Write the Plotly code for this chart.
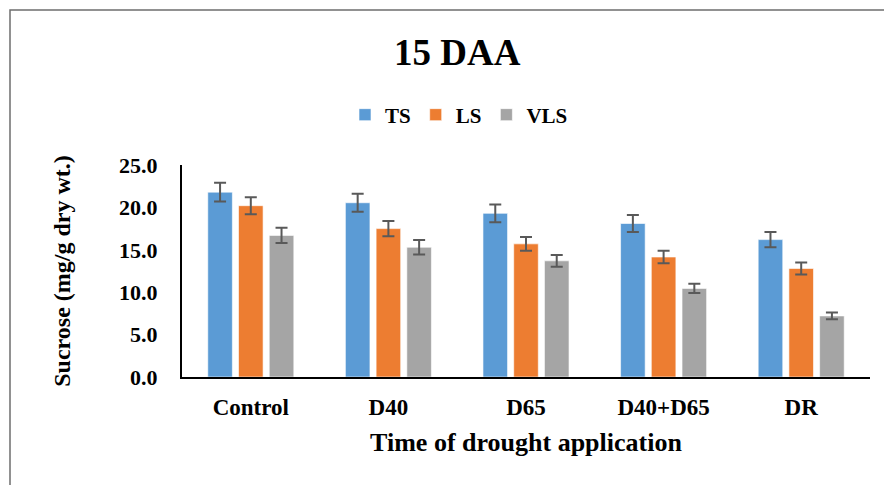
import plotly.graph_objects as go

categories = ["Control", "D40", "D65", "D40+D65", "DR"]
ts = [21.8, 20.55, 19.3, 18.1, 16.2]
ts_err = [1.1, 1.05, 1.05, 1.0, 0.9]
ls = [20.2, 17.5, 15.7, 14.15, 12.8]
ls_err = [1.0, 0.9, 0.8, 0.75, 0.7]
vls = [16.7, 15.3, 13.7, 10.45, 7.2]
vls_err = [0.9, 0.85, 0.7, 0.55, 0.4]
y_ticks = [0, 5, 10, 15, 20, 25]

FONT = "Liberation Serif, Times New Roman, serif"
W, H = 884, 485
L, R, T, B = 182, 14, 165, 108

fig = go.Figure()
for name, vals, errs, col in [("TS", ts, ts_err, "#5B9BD5"),
                              ("LS", ls, ls_err, "#ED7D31"),
                              ("VLS", vls, vls_err, "#A5A5A5")]:
    fig.add_trace(go.Bar(
        x=categories, y=vals, name=name,
        marker=dict(color=col, line=dict(color="rgba(255,255,255,0.6)", width=1)),
        error_y=dict(type="data", array=errs, visible=True, color="#595959",
                     thickness=2, width=6),
    ))

pw = W - L - R
ph = H - T - B
def px_x(px):
    return (px - L) / pw
def px_y(py):
    return (H - B - py) / ph

fig.update_layout(
    width=W, height=H,
    margin=dict(l=L, r=R, t=T, b=B),
    plot_bgcolor="white", paper_bgcolor="white",
    barmode="group", bargap=0.33, bargroupgap=0.2,
    font=dict(family=FONT, color="black"),
    showlegend=True,
    legend=dict(orientation="h", x=px_x(459), xanchor="center", y=px_y(115), yanchor="middle",
                font=dict(family=FONT, size=21, color="black", weight="bold"),
                itemwidth=30, traceorder="normal"),
    xaxis=dict(showline=True, linecolor="black", linewidth=2, ticks="",
               tickfont=dict(family=FONT, size=23, color="black", weight="bold"),
               ticklabelstandoff=8,
               title=dict(text="Time of drought application",
                          font=dict(family=FONT, size=26, color="black", weight="bold"),
                          standoff=14),
               showgrid=False),
    yaxis=dict(range=[0, 25], tickvals=y_ticks, tickformat=".1f",
               showline=True, linecolor="black", linewidth=2, ticks="",
               tickfont=dict(family=FONT, size=22, color="black", weight="bold"),
               ticklabelstandoff=18,
               title=dict(text="Sucrose (mg/g dry wt.)",
                          font=dict(family=FONT, size=24, color="black", weight="bold"),
                          standoff=42),
               showgrid=False, zeroline=False),
    annotations=[dict(text="<b>15 DAA</b>", xref="paper", yref="paper",
                      x=px_x(457), y=px_y(52), xanchor="center", yanchor="middle",
                      showarrow=False, font=dict(family=FONT, size=37, color="black"))],
    shapes=[dict(type="rect", xref="paper", yref="paper",
                 x0=px_x(10), x1=px_x(W + 20), y0=px_y(H + 20), y1=px_y(10),
                 line=dict(color="#6E6E6E", width=1.5), fillcolor="rgba(0,0,0,0)",
                 layer="below")],
)

fig.write_html("out.html")
